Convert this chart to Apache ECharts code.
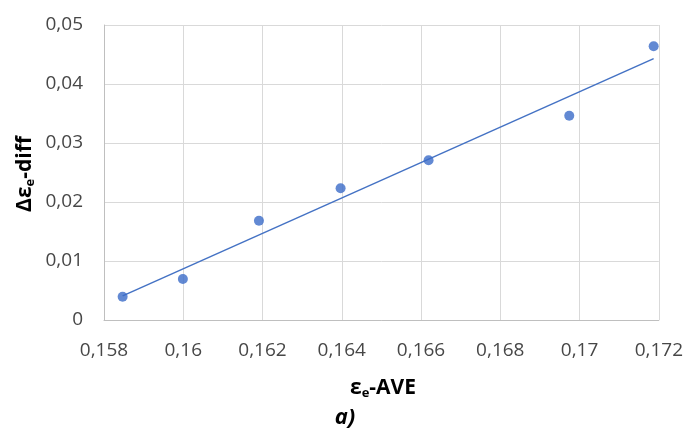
<!DOCTYPE html>
<html>
<head>
<meta charset="utf-8">
<script src="https://cdn.jsdelivr.net/npm/echarts@6/dist/echarts.min.js"></script>
<style>
  html, body { margin: 0; padding: 0; background: #fff; }
  #chart { width: 686px; height: 429px; }
</style>
</head>
<body>
<div id="chart"></div>
<script>
// Measured strain pairs: average strain (x) vs. strain difference (y)
const aveStrain  = [0.15847, 0.15999, 0.16191, 0.16397, 0.16619, 0.16974, 0.17187];
const diffStrain = [0.00395, 0.00695, 0.01683, 0.02232, 0.02707, 0.03463, 0.04639];

// Linear trend line end points
const trendX = [0.15847, 0.17187];
const trendY = [0.00410, 0.04430];

// Axis ranges and tick steps
const xMin = 0.158, xMax = 0.172, xStep = 0.002;
const yMin = 0, yMax = 0.05, yStep = 0.01;

const blue = '#3b6cc8';
const labelFont = '"Open Sans", "DejaVu Sans", sans-serif';

function commaNum(v) {
  return String(parseFloat(v.toFixed(4))).replace('.', ',');
}

const nameRich = {
  m: { fontFamily: labelFont, fontWeight: 'bold', fontSize: 21, fill: '#000', lineHeight: 24 },
  s: { fontFamily: labelFont, fontWeight: 'bold', fontSize: 13, fill: '#000', lineHeight: 13, verticalAlign: 'bottom', padding: [10, 0, 0, 0] }
};

const chart = echarts.init(document.getElementById('chart'), null, { renderer: 'canvas' });

chart.setOption({
  animation: false,
  backgroundColor: '#ffffff',
  grid: { left: 104, right: 26, top: 25, bottom: 109 },
  xAxis: {
    type: 'value',
    min: xMin, max: xMax, interval: xStep,
    axisLine: { show: true, lineStyle: { color: '#bfbfbf', width: 1 } },
    axisTick: { show: false },
    splitLine: { show: true, lineStyle: { color: '#d9d9d9', width: 1 } },
    axisLabel: {
      color: '#474747', fontFamily: labelFont, fontSize: 19, margin: 21,
      formatter: commaNum
    }
  },
  yAxis: {
    type: 'value',
    min: yMin, max: yMax, interval: yStep,
    axisLine: { show: true, lineStyle: { color: '#bfbfbf', width: 1 } },
    axisTick: { show: false },
    splitLine: { show: true, lineStyle: { color: '#d9d9d9', width: 1 } },
    axisLabel: {
      color: '#474747', fontFamily: labelFont, fontSize: 19, margin: 21,
      formatter: commaNum
    }
  },
  series: [
    {
      type: 'line',
      data: trendX.map((x, i) => [x, trendY[i]]),
      symbol: 'none',
      lineStyle: { color: '#4472C4', width: 1.5 },
      z: 2
    },
    {
      type: 'scatter',
      data: aveStrain.map((x, i) => [x, diffStrain[i]]),
      symbol: 'circle',
      symbolSize: 10,
      itemStyle: { color: blue },
      z: 3
    }
  ],
  graphic: [
    {
      type: 'text',
      x: 383, y: 388,
      style: {
        text: '{m|ε}{s|e}{m|-AVE}',
        align: 'center', verticalAlign: 'middle',
        rich: nameRich
      }
    },
    {
      type: 'text',
      x: 345, y: 418,
      style: {
        text: 'a)',
        align: 'center', verticalAlign: 'middle',
        fontFamily: labelFont, fontWeight: 'bold', fontStyle: 'italic', fontSize: 22, fill: '#000'
      }
    },
    {
      type: 'text',
      x: 25, y: 174,
      rotation: Math.PI / 2,
      style: {
        text: '{m|Δε}{s|e}{m|-diff}',
        align: 'center', verticalAlign: 'middle',
        rich: nameRich
      }
    }
  ]
});
</script>
</body>
</html>
